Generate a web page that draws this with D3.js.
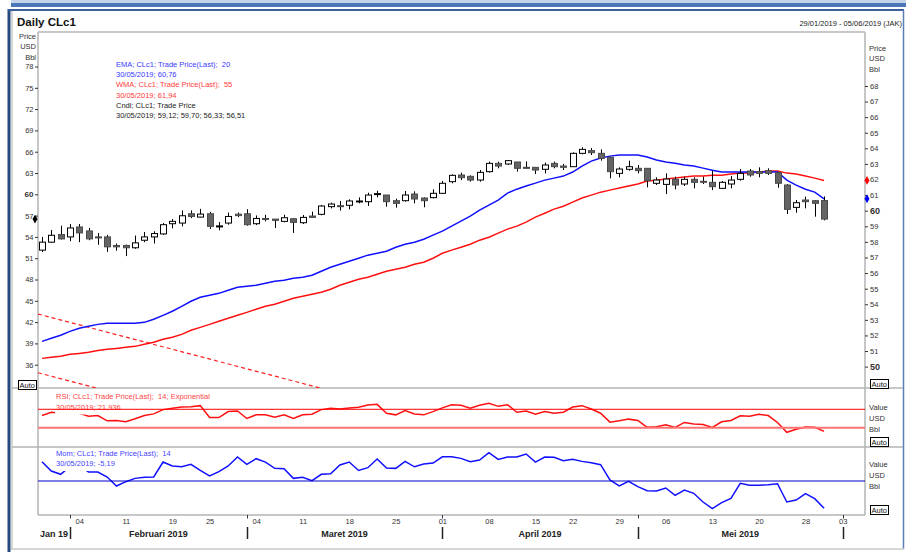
<!DOCTYPE html>
<html>
<head>
<meta charset="utf-8">
<script src="https://cdn.jsdelivr.net/npm/d3@7"></script>
<style>
  body { margin: 0; background: #fff; }
  svg text { font-family: Arial, "Liberation Sans", sans-serif; white-space: pre; }
</style>
</head>
<body>
<svg width="906" height="552"></svg>
<script>
// trading days shown on the x axis (29/01/2019 - 05/06/2019)
var janDays = [29, 30, 31];
var febDays = [1, 4, 5, 6, 7, 8, 11, 12, 13, 14, 15, 19, 20, 21, 22, 25, 26, 27, 28];
var marDays = [1, 4, 5, 6, 7, 8, 11, 12, 13, 14, 15, 18, 19, 20, 21, 22, 25, 26, 27, 28, 29];
var aprDays = [1, 2, 3, 4, 5, 8, 9, 10, 11, 12, 15, 16, 17, 18, 22, 23, 24, 25, 26, 29, 30];
var mayDays = [1, 2, 3, 6, 7, 8, 9, 10, 13, 14, 15, 16, 17, 20, 21, 22, 23, 24, 28, 29, 30, 31];
var junDays = [3, 4, 5];

// daily candles CLc1 (29/01 .. 30/05)
var openP = [52.14, 53.26, 54.33, 54.0, 55.4, 54.84, 54.0, 54.0, 52.79, 52.79,
  52.47, 53.53, 54.0, 54.42, 55.86, 55.95, 57.26, 56.79, 57.26, 55.49,
  55.95, 57.2, 57.26, 55.86, 56.6, 56.51, 56.19, 56.56, 56.0, 56.94,
  57.18, 58.26, 58.4, 58.45, 59.0, 58.96, 60.05, 59.9, 59.1, 59.1,
  60.04, 59.48, 59.53, 60.14, 61.78, 62.72, 62.53, 62.01, 63.19, 64.36,
  64.27, 64.55, 63.8, 63.8, 63.52, 64.36, 63.98, 63.89, 65.77, 66.15,
  65.77, 65.21, 62.95, 63.52, 63.66, 63.66, 61.55, 61.4, 62.11, 61.45,
  62.11, 61.83, 61.69, 60.84, 61.45, 62.11, 63.28, 63.19, 63.33, 63.05,
  61.31, 58.16, 59.2, 59.1, 59.12];
var highP = [54.0, 54.98, 55.58, 55.81, 55.81, 55.26, 54.56, 54.28, 53.07, 52.93,
  54.19, 54.7, 54.79, 55.95, 56.51, 57.72, 57.72, 57.95, 57.53, 56.09,
  57.44, 57.44, 57.9, 57.02, 57.12, 56.51, 57.12, 56.6, 57.08, 57.56,
  58.49, 58.82, 59.06, 59.29, 59.57, 60.23, 60.51, 59.9, 59.38, 60.47,
  60.42, 59.57, 60.7, 61.87, 62.81, 63.05, 62.67, 63.42, 64.6, 64.6,
  64.83, 64.55, 64.64, 63.8, 64.46, 64.6, 64.27, 65.91, 66.62, 66.52,
  66.33, 65.3, 63.8, 64.74, 64.13, 63.66, 62.39, 62.95, 62.48, 62.48,
  62.39, 62.48, 63.33, 61.87, 62.58, 63.56, 63.56, 63.8, 63.66, 63.19,
  61.45, 59.2, 59.67, 59.2, 59.70];
var lowP = [51.86, 53.16, 53.63, 53.4, 53.26, 53.53, 52.88, 51.9, 52.05, 51.3,
  52.33, 53.26, 53.07, 54.28, 55.21, 55.49, 56.65, 56.74, 55.12, 54.93,
  55.72, 56.79, 55.58, 55.67, 56.19, 55.26, 56.05, 54.56, 55.82, 56.75,
  57.04, 58.02, 57.7, 57.88, 58.73, 58.35, 59.57, 58.26, 58.12, 58.96,
  58.73, 58.17, 59.43, 60.04, 61.55, 62.0, 61.78, 61.78, 63.05, 63.66,
  64.13, 63.19, 63.66, 62.86, 62.95, 63.66, 63.42, 63.89, 65.63, 65.53,
  64.74, 62.25, 62.39, 63.33, 62.95, 60.98, 61.31, 60.04, 60.7, 61.17,
  60.84, 61.45, 60.6, 60.75, 60.84, 61.92, 62.48, 62.39, 62.72, 60.93,
  57.22, 57.4, 58.02, 56.85, 56.33];
var closeP = [53.26, 54.23, 53.72, 55.26, 54.56, 53.72, 53.86, 52.6, 52.6, 52.47,
  53.16, 54.0, 54.47, 55.72, 56.19, 56.98, 56.88, 57.21, 55.49, 55.55,
  56.88, 57.0, 55.72, 56.6, 56.51, 56.33, 56.7, 56.05, 56.75, 56.75,
  58.35, 58.63, 58.35, 59.06, 59.06, 59.9, 60.1, 58.96, 58.73, 59.9,
  59.34, 59.1, 60.14, 61.55, 62.67, 62.34, 62.01, 63.09, 64.36, 63.98,
  64.74, 63.66, 63.66, 63.42, 64.13, 63.89, 63.8, 65.77, 66.33, 65.86,
  65.07, 63.19, 63.56, 63.89, 63.33, 61.92, 62.01, 62.15, 61.31, 62.11,
  61.69, 61.78, 61.07, 61.69, 62.01, 62.95, 62.72, 62.95, 62.95, 61.55,
  57.88, 58.82, 58.96, 58.73, 56.51];

// moving averages (plotted against the right scale)
var ema20 = [51.62, 51.82, 52.01, 52.26, 52.46, 52.59, 52.71, 52.78, 52.78, 52.78,
  52.78, 52.84, 53.04, 53.29, 53.55, 53.87, 54.19, 54.45, 54.58, 54.70,
  54.90, 55.09, 55.15, 55.22, 55.35, 55.48, 55.54, 55.67, 55.73, 55.86,
  56.12, 56.37, 56.57, 56.76, 56.95, 57.15, 57.27, 57.40, 57.66, 57.85,
  57.98, 58.17, 58.43, 58.69, 59.01, 59.33, 59.65, 60.04, 60.36, 60.68,
  61.13, 61.38, 61.58, 61.77, 61.96, 62.09, 62.22, 62.48, 62.86, 63.18,
  63.38, 63.50, 63.57, 63.57, 63.57, 63.44, 63.25, 63.12, 63.05, 62.93,
  62.86, 62.73, 62.60, 62.48, 62.48, 62.48, 62.48, 62.48, 62.48, 62.48,
  61.96, 61.64, 61.38, 61.19, 60.76];
var wma55 = [50.53, 50.60, 50.66, 50.79, 50.85, 50.92, 51.04, 51.11, 51.17, 51.24,
  51.30, 51.43, 51.56, 51.75, 51.88, 52.07, 52.33, 52.52, 52.71, 52.91,
  53.10, 53.29, 53.48, 53.68, 53.87, 54.00, 54.19, 54.38, 54.51, 54.64,
  54.77, 54.96, 55.22, 55.41, 55.60, 55.73, 55.93, 56.12, 56.25, 56.38,
  56.57, 56.70, 56.95, 57.27, 57.47, 57.66, 57.85, 58.11, 58.30, 58.56,
  58.82, 59.01, 59.27, 59.59, 59.84, 60.10, 60.29, 60.55, 60.81, 61.00,
  61.19, 61.32, 61.45, 61.58, 61.71, 61.90, 61.96, 62.03, 62.09, 62.16,
  62.22, 62.22, 62.28, 62.28, 62.35, 62.41, 62.41, 62.48, 62.54, 62.54,
  62.41, 62.35, 62.22, 62.09, 61.94];

// trend channel drawn by hand on the price pane: [index, price]
var trendUpper = [[-0.43, 43.14], [29.86, 32.72]];
var trendLower = [[-0.43, 34.87], [5.82, 32.72]];

// RSI 14 exponential
var rsi14 = [56.4, 63.6, 61.4, 63.6, 61.4, 55.0, 56.4, 45.0, 45.7, 42.9,
  49.3, 56.4, 60.0, 69.3, 72.1, 75.0, 75.7, 77.9, 52.1, 52.1,
  65.0, 66.4, 50.0, 57.9, 57.9, 52.9, 57.9, 50.0, 57.9, 59.3,
  69.3, 72.1, 70.7, 72.9, 74.3, 79.3, 80.7, 61.4, 57.9, 67.1,
  60.0, 57.9, 65.0, 73.0, 80.0, 78.6, 72.1, 78.6, 82.9, 76.4,
  80.0, 63.6, 66.4, 59.3, 65.0, 61.4, 63.6, 75.0, 77.9, 70.7,
  61.4, 42.1, 45.0, 48.6, 45.7, 30.7, 32.1, 36.4, 30.7, 41.4,
  37.9, 37.1, 30.7, 42.9, 45.7, 55.7, 55.0, 59.3, 56.4, 41.4,
  20.0, 26.4, 31.4, 30.7, 21.936];
var rsiLevels = [70, 30];

// Momentum 14
var mom14 = [3.67, 1.9, 1.27, 2.7, 3.0, 1.7, 1.7, 0.76, -0.95, -0.13,
  0.5, 0.7, 0.76, 3.6, 2.85, 2.7, 3.16, 2.0, 0.95, 1.77,
  2.85, 4.56, 3.16, 4.24, 3.6, 2.4, 2.34, 0.5, 0.7, 0.06,
  1.27, 1.39, 3.04, 3.6, 2.0, 2.53, 4.18, 2.47, 2.4, 3.73,
  2.7, 3.23, 3.42, 4.6, 4.6, 4.3, 3.67, 3.99, 5.38, 4.11,
  4.56, 4.56, 5.13, 3.6, 4.56, 4.49, 3.86, 4.11, 3.73, 3.48,
  3.1, 0.19, -0.95, -0.06, -1.08, -1.84, -1.9, -1.33, -2.72, -1.71,
  -2.34, -3.99, -5.25, -4.11, -3.29, -0.44, -0.82, -0.82, -0.7, -0.51,
  -3.99, -3.61, -2.41, -3.35, -5.19];

// axis ticks and labels
var leftTicks = [36, 39, 42, 45, 48, 51, 54, 57, 60, 63, 66, 69, 72, 75, 78];
var rightTicks = [50, 51, 52, 53, 54, 55, 56, 57, 58, 59, 60, 61, 62, 63, 64, 65, 66, 67, 68];
var weekTicks = ["2019-02-04", "2019-02-11", "2019-02-19", "2019-02-25", "2019-03-04", "2019-03-11",
  "2019-03-18", "2019-03-25", "2019-04-01", "2019-04-08", "2019-04-15", "2019-04-22",
  "2019-04-29", "2019-05-06", "2019-05-13", "2019-05-20", "2019-05-28", "2019-06-03"];
var monthStarts = ["2019-02-01", "2019-03-01", "2019-04-01", "2019-05-01", "2019-06-03"];
var monthLabels = ["Jan 19", "Februari 2019", "Maret 2019", "April 2019", "Mei 2019"];

function pad(n) { return n < 10 ? "0" + n : "" + n; }

function main() {
  var svg = d3.select("svg");

  // build the date categories
  var dates = [];
  [[1, janDays], [2, febDays], [3, marDays], [4, aprDays], [5, mayDays], [6, junDays]].forEach(function (m) {
    m[1].forEach(function (day) {
      dates.push("2019-" + pad(m[0]) + "-" + pad(day));
    });
  });

  var plotLeft = 38, plotRight = 865;
  var mainTop = 32, mainBottom = 388, rsiBottom = 447, momBottom = 515;

  var x = d3.scalePoint().domain(dates).range([42, 861.3]);
  var xi = d3.scaleLinear().domain([0, dates.length - 1]).range([42, 861.3]);
  var yLeft = d3.scaleLinear().domain([32.72, 82.86]).range([mainBottom, mainTop]);
  var yRight = d3.scaleLinear().domain([48.63, 71.46]).range([mainBottom, mainTop]);
  var yRsi = d3.scaleLinear().domain([-12, 116.3]).range([rsiBottom, mainBottom]);
  var yMom = d3.scaleLinear().domain([-6.46, 6.46]).range([momBottom, rsiBottom]);

  // window frame
  svg.append("rect").attr("x", 11).attr("y", 0).attr("width", 895).attr("height", 3).attr("fill", "#c3d4ea");
  svg.append("rect").attr("x", 11).attr("y", 3).attr("width", 895).attr("height", 4).attr("fill", "#4a78b8");
  svg.append("line").attr("x1", 9).attr("x2", 9).attr("y1", 9).attr("y2", 552)
    .attr("stroke", "#25487f").attr("stroke-width", 3);
  svg.append("line").attr("x1", 8).attr("x2", 904).attr("y1", 10).attr("y2", 10)
    .attr("stroke", "#3b5f98").attr("stroke-width", 2);
  svg.append("line").attr("x1", 903.5).attr("x2", 903.5).attr("y1", 10).attr("y2", 549)
    .attr("stroke", "#5a7fb8").attr("stroke-width", 1.5);
  svg.append("line").attr("x1", 12).attr("x2", 12).attr("y1", 11).attr("y2", 549)
    .attr("stroke", "#c8c8c8").attr("stroke-width", 1.5);
  svg.append("line").attr("x1", 11).attr("x2", 904).attr("y1", 549).attr("y2", 549)
    .attr("stroke", "#c8c8c8").attr("stroke-width", 1.5);

  svg.append("text").attr("x", 17).attr("y", 26).text("Daily CLc1")
    .style("font-size", "11.5px").style("font-weight", "bold").attr("fill", "#111");
  svg.append("text").attr("x", 902).attr("y", 26).attr("text-anchor", "end")
    .text("29/01/2019 - 05/06/2019 (JAK)").style("font-size", "7.5px").attr("fill", "#222");

  // pane borders
  var gray = "#b4b4b4";
  svg.append("line").attr("x1", plotLeft).attr("x2", plotRight).attr("y1", mainTop).attr("y2", mainTop)
    .attr("stroke", gray).attr("stroke-width", 1.5);
  [mainBottom, rsiBottom].forEach(function (yy) {
    svg.append("line").attr("x1", 12).attr("x2", 903).attr("y1", yy).attr("y2", yy)
      .attr("stroke", gray).attr("stroke-width", 1.5);
  });
  svg.append("line").attr("x1", plotLeft).attr("x2", plotRight).attr("y1", momBottom).attr("y2", momBottom)
    .attr("stroke", gray).attr("stroke-width", 1.5);
  [plotLeft, plotRight].forEach(function (xx) {
    svg.append("line").attr("x1", xx).attr("x2", xx).attr("y1", mainTop).attr("y2", momBottom)
      .attr("stroke", gray).attr("stroke-width", 1.5);
  });

  // clip for the price pane
  var defs = svg.append("defs");
  defs.append("clipPath").attr("id", "clipMain").append("rect")
    .attr("x", plotLeft).attr("y", mainTop).attr("width", plotRight - plotLeft).attr("height", mainBottom - mainTop);

  var main = svg.append("g").attr("clip-path", "url(#clipMain)");

  // trend channel
  var trendLine = d3.line()
    .x(function (d) { return xi(d[0]); })
    .y(function (d) { return yLeft(d[1]); });
  [trendUpper, trendLower].forEach(function (t) {
    main.append("path").attr("d", trendLine(t)).attr("fill", "none")
      .attr("stroke", "#ff2020").attr("stroke-width", 1.2).attr("stroke-dasharray", "4,3");
  });

  // moving averages on the right scale
  var maLine = d3.line()
    .x(function (d, i) { return xi(i); })
    .y(function (d) { return yRight(d); });
  main.append("path").attr("d", maLine(wma55)).attr("fill", "none")
    .attr("stroke", "#ff1010").attr("stroke-width", 1.5);
  main.append("path").attr("d", maLine(ema20)).attr("fill", "none")
    .attr("stroke", "#1010ff").attr("stroke-width", 1.5);

  // candles on the left scale
  var candles = closeP.map(function (c, i) {
    return { date: dates[i], o: openP[i], h: highP[i], l: lowP[i], c: c };
  });
  main.selectAll(".wick").data(candles).enter().append("line")
    .attr("class", "wick")
    .attr("x1", function (d) { return Math.round(x(d.date)) + 0.5; })
    .attr("x2", function (d) { return Math.round(x(d.date)) + 0.5; })
    .attr("y1", function (d) { return yLeft(d.h); })
    .attr("y2", function (d) { return yLeft(d.l); })
    .attr("stroke", "#000").attr("stroke-width", 1);
  main.selectAll(".body").data(candles).enter().append("rect")
    .attr("class", "body")
    .attr("x", function (d) { return Math.round(x(d.date)) - 2.5; })
    .attr("y", function (d) { return yLeft(Math.max(d.o, d.c)); })
    .attr("width", 6)
    .attr("height", function (d) { return Math.max(1, Math.abs(yLeft(d.o) - yLeft(d.c))); })
    .attr("fill", function (d) { return d.c >= d.o ? "#fff" : "#646464"; })
    .attr("stroke", function (d) { return d.c >= d.o ? "#000" : "#4a4a4a"; })
    .attr("stroke-width", 1);

  // legend of the price pane
  var legend = [
    ["EMA; CLc1; Trade Price(Last);  20", "#3a3aff"],
    ["30/05/2019; 60,76", "#3a3aff"],
    ["WMA; CLc1; Trade Price(Last);  55", "#ff3a3a"],
    ["30/05/2019; 61,94", "#ff3a3a"],
    ["Cndl; CLc1; Trade Price", "#222"],
    ["30/05/2019; 59,12; 59,70; 56,33; 56,51", "#222"]
  ];
  svg.selectAll(".legMain").data(legend).enter().append("text")
    .attr("class", "legMain")
    .attr("x", 116)
    .attr("y", function (d, i) { return 66.8 + i * 10.3; })
    .attr("fill", function (d) { return d[1]; })
    .style("font-size", "7.5px")
    .text(function (d) { return d[0]; });

  // left axis
  var axL = svg.append("g").attr("transform", "translate(" + plotLeft + ",0)")
    .call(d3.axisLeft(yLeft).tickValues(leftTicks).tickSize(3).tickPadding(1.5));
  axL.select(".domain").remove();
  axL.selectAll("line").attr("stroke", "#333");
  axL.selectAll("text").attr("fill", "#333")
    .style("font-size", function (d) { return d === 60 ? "8px" : "7.5px"; })
    .style("font-weight", function (d) { return d === 60 ? "bold" : "normal"; });

  // right axis
  var axR = svg.append("g").attr("transform", "translate(" + plotRight + ",0)")
    .call(d3.axisRight(yRight).tickValues(rightTicks).tickSize(3).tickPadding(2));
  axR.select(".domain").remove();
  axR.selectAll("line").attr("stroke", "#333");
  axR.selectAll("text").attr("fill", "#333")
    .style("font-size", function (d) { return d % 10 === 0 ? "9px" : "7.5px"; })
    .style("font-weight", function (d) { return d % 10 === 0 ? "bold" : "normal"; });

  // unit labels
  ["Price", "USD", "Bbl"].forEach(function (t, i) {
    svg.append("text").attr("x", 36).attr("y", 38.5 + i * 10.5).attr("text-anchor", "end")
      .text(t).style("font-size", "7.5px").attr("fill", "#333");
    svg.append("text").attr("x", 869).attr("y", 50.5 + i * 10.8)
      .text(t).style("font-size", "7.5px").attr("fill", "#333");
  });
  [[409.5], [466.5]].forEach(function (p) {
    ["Value", "USD", "Bbl"].forEach(function (t, i) {
      svg.append("text").attr("x", 869).attr("y", p[0] + i * 11)
        .text(t).style("font-size", "7.5px").attr("fill", "#333");
    });
  });

  // value markers on the axes
  var diamond = d3.symbol().type(d3.symbolDiamond).size(22);
  svg.append("path").attr("d", diamond)
    .attr("transform", "translate(35," + yLeft(closeP[closeP.length - 1]) + ")").attr("fill", "#000");
  svg.append("path").attr("d", diamond)
    .attr("transform", "translate(867," + yRight(wma55[wma55.length - 1]) + ")").attr("fill", "#ff0000");
  svg.append("path").attr("d", diamond)
    .attr("transform", "translate(867," + yRight(ema20[ema20.length - 1]) + ")").attr("fill", "#0000ff");

  // "Auto" boxes
  function autoBox(bx, by) {
    svg.append("rect").attr("x", bx).attr("y", by).attr("width", 18).attr("height", 9)
      .attr("fill", "#fff").attr("stroke", "#000").attr("stroke-width", 1);
    svg.append("text").attr("x", bx + 1).attr("y", by + 7.5).text("Auto")
      .style("font-size", "7.5px").attr("fill", "#111");
  }
  autoBox(18.5, 380.5);
  autoBox(870.5, 379.5);
  autoBox(870.5, 437.5);
  autoBox(870.5, 505.5);

  // legend helper with a white background
  function paneLegend(lines, color, lx, ly) {
    var g = svg.append("g");
    lines.forEach(function (t, i) {
      var txt = g.append("text").attr("x", lx).attr("y", ly + i * 10.5).text(t)
        .style("font-size", "7.5px").attr("fill", color);
      var bb = txt.node().getBBox();
      g.insert("rect", "text").attr("x", bb.x - 1).attr("y", bb.y)
        .attr("width", bb.width + 2).attr("height", bb.height + 3).attr("fill", "#fff");
    });
    return g;
  }

  // RSI pane
  var rsiLine = d3.line()
    .x(function (d, i) { return xi(i); })
    .y(function (d) { return yRsi(d); });
  svg.append("path").attr("d", rsiLine(rsi14)).attr("fill", "none")
    .attr("stroke", "#ff1010").attr("stroke-width", 1.5);
  paneLegend(["RSI; CLc1; Trade Price(Last);  14; Exponential", "30/05/2019; 21,936"], "#ff4545", 56, 399);
  svg.selectAll(".rsiLevel").data(rsiLevels).enter().append("line")
    .attr("class", "rsiLevel")
    .attr("x1", plotLeft).attr("x2", plotRight)
    .attr("y1", function (d) { return yRsi(d); })
    .attr("y2", function (d) { return yRsi(d); })
    .attr("stroke", function (d) { return d === 70 ? "#ff0000" : "#ff7373"; })
    .attr("stroke-width", function (d) { return d === 70 ? 1 : 2; });

  // Momentum pane
  var momLine = d3.line()
    .x(function (d, i) { return xi(i); })
    .y(function (d) { return yMom(d); });
  svg.append("path").attr("d", momLine(mom14)).attr("fill", "none")
    .attr("stroke", "#1010ff").attr("stroke-width", 1.5);
  paneLegend(["Mom; CLc1; Trade Price(Last);  14", "30/05/2019; -5,19"], "#4545ff", 56, 455.5);
  svg.append("line").attr("x1", plotLeft).attr("x2", plotRight)
    .attr("y1", yMom(0)).attr("y2", yMom(0)).attr("stroke", "#0000c8").attr("stroke-width", 1);

  // time axis
  var axB = svg.append("g").attr("transform", "translate(0," + momBottom + ")")
    .call(d3.axisBottom(x).tickValues(weekTicks).tickSize(0).tickPadding(4)
      .tickFormat(function (d) { return d.slice(8); }));
  axB.select(".domain").remove();
  axB.selectAll("text").attr("fill", "#333").style("font-size", "7.5px");

  monthStarts.forEach(function (d) {
    var mx = Math.round(x(d)) + 0.5;
    svg.append("line").attr("x1", mx).attr("x2", mx).attr("y1", momBottom).attr("y2", momBottom + 3.5)
      .attr("stroke", "#333").attr("stroke-width", 1);
    svg.append("line").attr("x1", mx).attr("x2", mx).attr("y1", 527).attr("y2", 539)
      .attr("stroke", "#222").attr("stroke-width", 1.5);
  });
  var bounds = [plotLeft].concat(monthStarts.map(function (d) { return x(d); }));
  monthLabels.forEach(function (t, i) {
    svg.append("text").attr("x", (bounds[i] + bounds[i + 1]) / 2).attr("y", 537)
      .attr("text-anchor", "middle").text(t)
      .style("font-size", "9px").style("font-weight", "bold").attr("fill", "#222");
  });
}

main();
</script>
</body>
</html>
